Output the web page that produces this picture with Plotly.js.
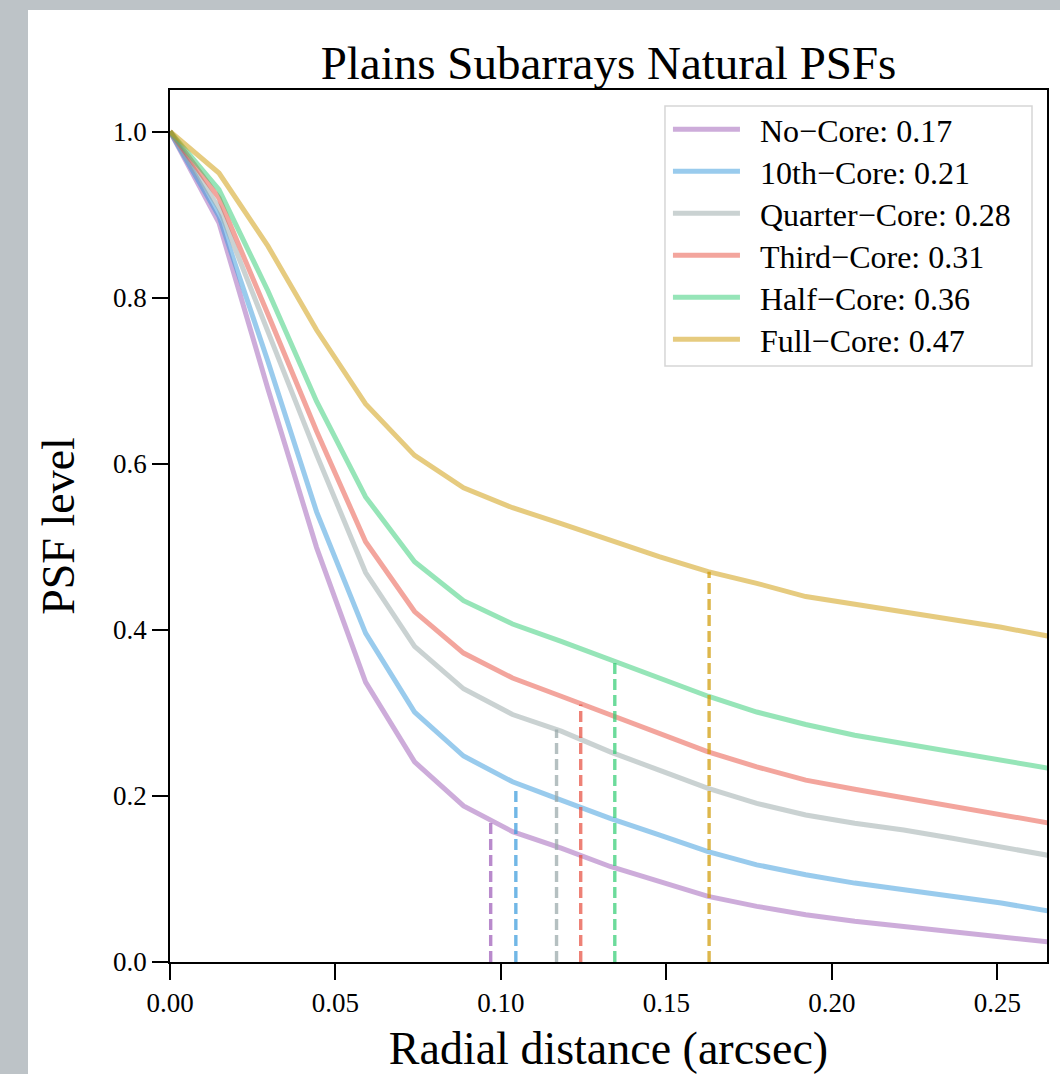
<!DOCTYPE html>
<html>
<head>
<meta charset="utf-8">
<script src="https://cdn.plot.ly/plotly-3.0.1.min.js"></script>
<style>
  html, body { margin: 0; padding: 0; background: #bdc3c7; width: 1060px; height: 1074px; overflow: hidden; }
  #chart { position: absolute; left: 28px; top: 10px; width: 1032px; height: 1064px; background: #ffffff; }
</style>
</head>
<body>
<div id="chart"></div>
<script>
// Radial distance samples (arcsec)
const radius = [0, 0.0148, 0.0296, 0.0443, 0.0591, 0.0739, 0.0887, 0.1035, 0.1182, 0.1330,
                0.1478, 0.1626, 0.1773, 0.1921, 0.2069, 0.2217, 0.2364, 0.2512, 0.2660];

const seriesNames = ["No−Core", "10th−Core", "Quarter−Core", "Third−Core", "Half−Core", "Full−Core"];

const noCore      = [1.0, 0.890, 0.690, 0.499, 0.337, 0.241, 0.188, 0.157, 0.137, 0.115, 0.097, 0.079, 0.067, 0.057, 0.049, 0.043, 0.037, 0.031, 0.024];
const tenthCore   = [1.0, 0.898, 0.723, 0.542, 0.396, 0.301, 0.248, 0.217, 0.195, 0.173, 0.153, 0.133, 0.117, 0.105, 0.095, 0.087, 0.079, 0.071, 0.061];
const quarterCore = [1.0, 0.908, 0.759, 0.611, 0.469, 0.380, 0.329, 0.298, 0.278, 0.253, 0.231, 0.209, 0.191, 0.177, 0.167, 0.159, 0.149, 0.139, 0.128];
const thirdCore   = [1.0, 0.920, 0.780, 0.639, 0.506, 0.422, 0.372, 0.342, 0.320, 0.298, 0.276, 0.253, 0.235, 0.219, 0.208, 0.198, 0.187, 0.177, 0.167];
const halfCore    = [1.0, 0.930, 0.808, 0.675, 0.560, 0.482, 0.435, 0.407, 0.386, 0.364, 0.342, 0.320, 0.301, 0.286, 0.273, 0.263, 0.253, 0.243, 0.233];
const fullCore    = [1.0, 0.950, 0.862, 0.761, 0.672, 0.610, 0.571, 0.547, 0.528, 0.508, 0.488, 0.470, 0.456, 0.440, 0.431, 0.422, 0.413, 0.403, 0.392];

// Level (legend value) and radius where each PSF reaches it
const levels     = [0.17, 0.21, 0.28, 0.31, 0.36, 0.47];
const levelRadii = [0.0969, 0.1045, 0.1168, 0.1241, 0.1344, 0.1629];

const xTicks = [0, 0.05, 0.10, 0.15, 0.20, 0.25];
const yTicks = [0, 0.2, 0.4, 0.6, 0.8, 1.0];

const baseColors = ["155,89,182", "52,152,219", "149,165,166", "231,76,60", "46,204,113", "206,152,0"];

const series = [noCore, tenthCore, quarterCore, thirdCore, halfCore, fullCore];
const FONT = "'Liberation Serif', 'Times New Roman', serif";

const traces = [];
series.forEach((ys, i) => {
  traces.push({
    x: radius, y: ys, type: 'scatter', mode: 'lines',
    name: seriesNames[i] + ': ' + levels[i].toFixed(2),
    legendgroup: 'g' + i, showlegend: false,
    line: { color: 'rgba(' + baseColors[i] + ',0.5)', width: 5 },
    hoverinfo: 'x+y+name'
  });
});
series.forEach((ys, i) => {
  traces.push({
    x: [levelRadii[i], levelRadii[i]], y: [0, levels[i]], type: 'scatter', mode: 'lines',
    legendgroup: 'g' + i, showlegend: false,
    line: { color: 'rgba(' + baseColors[i] + ',0.7)', width: 3.4, dash: '11px,5px' },
    hoverinfo: 'x+y'
  });
});

// Legend box (paper coordinates of the plot area), drawn like the matplotlib legend
const lgLeft = 0.5644, lgRight = 0.9829, lgTop = 0.9817, lgBottom = 0.6835;
const lgRow0 = 0.9551, lgRowStep = 0.04817;
const lgLineX0 = 0.5735, lgLineX1 = 0.6499, lgTextX = 0.6710;

const shapes = [{
  type: 'rect', xref: 'paper', yref: 'paper',
  x0: lgLeft, x1: lgRight, y0: lgBottom, y1: lgTop,
  line: { color: '#d6d6d6', width: 1.5 }, fillcolor: 'rgba(255,255,255,0.9)', layer: 'above'
}];
const annotations = [];
seriesNames.forEach((nm, i) => {
  const yy = lgRow0 - i * lgRowStep;
  shapes.push({
    type: 'line', xref: 'paper', yref: 'paper',
    x0: lgLineX0, x1: lgLineX1, y0: yy, y1: yy,
    line: { color: 'rgba(' + baseColors[i] + ',0.5)', width: 5 }, layer: 'above'
  });
  annotations.push({
    xref: 'paper', yref: 'paper', x: lgTextX, y: yy - 0.002, xanchor: 'left', yanchor: 'middle',
    text: nm + ': ' + levels[i].toFixed(2), showarrow: false,
    font: { family: FONT, size: 32, color: '#000' }
  });
});

const layout = {
  width: 1032, height: 1064,
  paper_bgcolor: '#ffffff', plot_bgcolor: '#ffffff',
  margin: { l: 142, r: 13, t: 80, b: 112 },
  font: { family: FONT, color: '#000000' },
  title: { text: 'Plains Subarrays Natural PSFs', font: { family: FONT, size: 47, color: '#000' },
           x: 0.5, xref: 'paper', xanchor: 'center', y: 1, yref: 'paper', yanchor: 'bottom', pad: { b: 11 } },
  xaxis: {
    range: [0, 0.265], tickvals: xTicks, tickformat: '.2f',
    ticks: 'outside', ticklen: 16, tickwidth: 2, tickcolor: '#000',
    showline: true, linecolor: '#000', linewidth: 1.8, mirror: true,
    showgrid: false, zeroline: false,
    tickfont: { family: FONT, size: 27, color: '#000' },
    title: { text: 'Radial distance (arcsec)', font: { family: FONT, size: 46, color: '#000' }, standoff: 19 }
  },
  yaxis: {
    range: [0, 1.05], tickvals: yTicks, tickformat: '.1f',
    ticks: 'outside', ticklen: 16, tickwidth: 2, tickcolor: '#000',
    showline: true, linecolor: '#000', linewidth: 1.8, mirror: true,
    showgrid: false, zeroline: false,
    tickfont: { family: FONT, size: 27, color: '#000' },
    title: { text: 'PSF level', font: { family: FONT, size: 46, color: '#000' }, standoff: 24 }
  },
  shapes: shapes,
  annotations: annotations,
  showlegend: false
};

Plotly.newPlot('chart', traces, layout, { displayModeBar: false });
</script>
</body>
</html>
